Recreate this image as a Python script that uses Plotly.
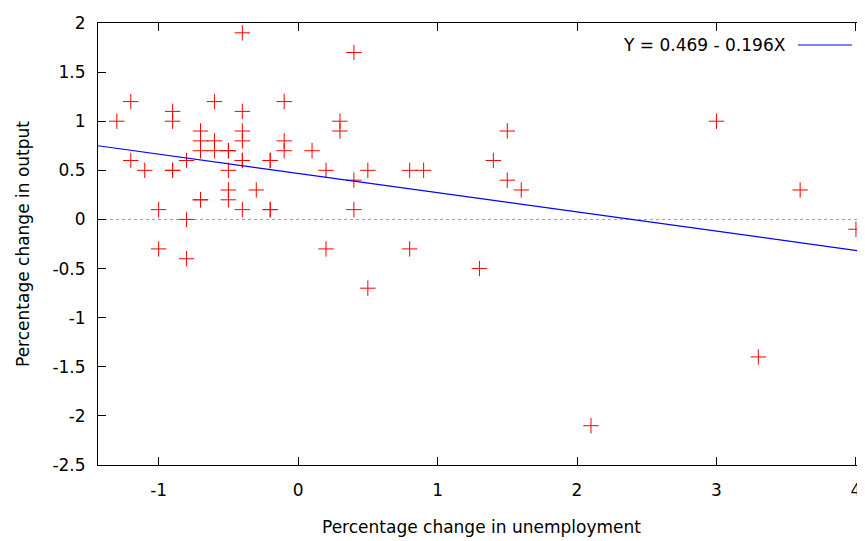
import plotly.graph_objects as go

# Data
unemployment_change = [
    -0.4, 0.4, -1.2, -0.9, -0.6, -0.4, -0.1, -1.3, -0.9, 0.3, 0.3,
    -0.7, -0.4, -0.7, -0.6, -0.4, -0.1, -0.7, -0.6, -0.5, -0.5, -0.1, 0.1,
    -1.2, -0.8, -0.4, -0.4, -0.2, -0.2, -1.1, -0.9, -0.9, -0.5, 0.2, 0.5,
    0.4, -0.5, -0.3, -0.7, -0.7, -0.5, -1.0, -0.4, -0.2, -0.2, 0.4, -0.8,
    -1.0, 0.2, -0.8, 0.5,
    1.5, 1.4, 0.8, 0.9, 1.5, 1.6, 0.8, 1.3, 2.1,
    3.0, 3.6, 4.0, 3.3,
]
output_change = [
    1.9, 1.7, 1.2, 1.1, 1.2, 1.1, 1.2, 1.0, 1.0, 1.0, 0.9,
    0.9, 0.9, 0.8, 0.8, 0.8, 0.8, 0.7, 0.7, 0.7, 0.7, 0.7, 0.7,
    0.6, 0.6, 0.6, 0.6, 0.6, 0.6, 0.5, 0.5, 0.5, 0.5, 0.5, 0.5,
    0.4, 0.3, 0.3, 0.2, 0.2, 0.2, 0.1, 0.1, 0.1, 0.1, 0.1, 0.0,
    -0.3, -0.3, -0.4, -0.7,
    0.9, 0.6, 0.5, 0.5, 0.4, 0.3, -0.3, -0.5, -2.1,
    1.0, 0.3, -0.1, -1.4,
]

fit_intercept = 0.469
fit_slope = -0.196
fit_label = "Y = 0.469 - 0.196X"

x_range = [-1.435, 4.065]
y_range = [-2.5, 2.0]
x_ticks = [-1, 0, 1, 2, 3, 4]
y_ticks = [-2.5, -2, -1.5, -1, -0.5, 0, 0.5, 1, 1.5, 2]

FONT = "DejaVu Sans"
FS = 17

# The page body has an 8px margin; the figure sits at (8, 8) in the window.
W, H = 857, 533
L, R, T, B = 90, 0, 15, 76
PW = W - L - R
PH = H - T - B


def px_x(fig_x):
    return (fig_x - L) / PW


def px_y(fig_y):
    return (H - B - fig_y) / PH


fit_x = [x_range[0], x_range[1]]
fit_y = [fit_intercept + fit_slope * v for v in fit_x]

fig = go.Figure()

fig.add_trace(go.Scatter(
    x=unemployment_change, y=output_change, mode="markers",
    marker=dict(symbol="cross-thin-open", size=11, color="red",
                line=dict(color="red", width=1)),
    showlegend=False, hoverinfo="x+y",
))

fig.add_trace(go.Scatter(
    x=fit_x, y=fit_y, mode="lines",
    line=dict(color="#0000ff", width=1.2),
    showlegend=False,
))

# dotted zero line
fig.add_shape(type="line", xref="paper", yref="y", x0=0, x1=1, y0=0, y1=0,
              line=dict(color="#a0a0a0", width=1, dash="dot"), layer="below")

# gnuplot-style key: text then line sample
fig.add_annotation(text=fit_label, xref="paper", yref="paper",
                   x=px_x(788 - 8), y=px_y(45 - 8),
                   xanchor="right", yanchor="middle", showarrow=False,
                   font=dict(family=FONT, size=FS, color="black"))
fig.add_shape(type="line", xref="paper", yref="paper",
              x0=px_x(798 - 8), x1=px_x(852 - 8),
              y0=px_y(45 - 8), y1=px_y(45 - 8),
              line=dict(color="#0000ff", width=1.2))

# axis titles
fig.add_annotation(text="Percentage change in unemployment", xref="paper", yref="paper",
                   x=0.5, y=0, yshift=-62, xanchor="center", yanchor="middle",
                   showarrow=False, font=dict(family=FONT, size=FS, color="black"))
fig.add_annotation(text="Percentage change in output", xref="paper", yref="paper",
                   x=0, y=0.5, xshift=-(98 - 23), xanchor="center", yanchor="middle",
                   textangle=-90, showarrow=False,
                   font=dict(family=FONT, size=FS, color="black"))

axis_common = dict(
    showline=True, linecolor="black", linewidth=1, mirror="ticks",
    ticks="inside", ticklen=8, tickcolor="black", tickwidth=1,
    showgrid=False, zeroline=False,
    tickfont=dict(family=FONT, size=FS, color="black"),
)

fig.update_layout(
    width=W, height=H,
    margin=dict(l=L, r=R, t=T, b=B, pad=0),
    paper_bgcolor="white", plot_bgcolor="white",
    font=dict(family=FONT, size=FS, color="black"),
    xaxis=dict(range=x_range, tickvals=x_ticks, ticktext=[str(t) for t in x_ticks],
               ticklabelstandoff=10, **axis_common),
    yaxis=dict(range=y_range, tickvals=y_ticks,
               ticktext=[("%g" % t) for t in y_ticks],
               ticklabelstandoff=8, **axis_common),
)

fig.write_html("out.html")
